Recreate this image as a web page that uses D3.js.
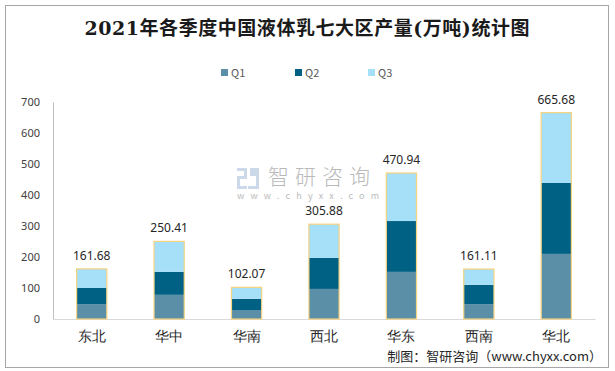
<!DOCTYPE html>
<html>
<head>
<meta charset="utf-8">
<script src="https://cdn.jsdelivr.net/npm/d3@7"></script>
<style>
  body { margin: 0; background: #fff; }
  svg { display: block; font-family: "Noto Sans CJK SC", "Noto Sans", sans-serif; }
</style>
</head>
<body>
<svg id="chart" width="615" height="371"></svg>
<script>
const regions = ["东北", "华中", "华南", "西北", "华东", "西南", "华北"];
const seriesNames = ["Q1", "Q2", "Q3"];
const q1 = [48, 78, 29, 97, 152, 48, 210];
const q2 = [52, 74, 36, 100, 164, 62, 229];
const q3 = [61.68, 98.41, 37.07, 108.88, 154.94, 51.11, 226.68];
const totals = ["161.68", "250.41", "102.07", "305.88", "470.94", "161.11", "665.68"];
const yTicks = [0, 100, 200, 300, 400, 500, 600, 700];
const colors = ["#5b8fa8", "#006185", "#a6dff8"];

const svg = d3.select("#chart");
const margin = { top: 102, left: 53 };
const innerW = 595 - margin.left;
const innerH = 319 - margin.top;

// outer frame
svg.append("rect")
  .attr("x", 5.5).attr("y", 5.5)
  .attr("width", 603).attr("height", 362)
  .attr("fill", "none").attr("stroke", "#a6a6a6").attr("stroke-width", 1);

svg.append("text")
  .attr("x", 307).attr("y", 35)
  .attr("text-anchor", "middle")
  .attr("font-family", "'DejaVu Serif', 'Noto Sans CJK SC', serif")
  .attr("font-size", 19).attr("font-weight", "bold")
  .attr("fill", "#1a1a1a")
  .attr("textLength", 445).attr("lengthAdjust", "spacing")
  .text("2021年各季度中国液体乳七大区产量(万吨)统计图");

// legend
const legendX = [221, 295, 368];
const legend = svg.append("g");
seriesNames.forEach((name, i) => {
  legend.append("rect")
    .attr("x", legendX[i]).attr("y", 69)
    .attr("width", 7).attr("height", 7)
    .attr("fill", colors[i]);
  legend.append("text")
    .attr("x", legendX[i] + 10).attr("y", 77)
    .attr("font-size", 11).attr("fill", "#595959")
    .text(name);
});

// watermark
const wm = svg.append("g").attr("opacity", 0.6);
wm.append("path")
  .attr("d", "M237,168h10v11h-7v7h7v3h-10v-13h7v-5h-7z")
  .attr("fill", "#a9c0dc");
wm.append("path")
  .attr("d", "M250,168h9v21h-11v-3h8v-10h-6z")
  .attr("fill", "#a9c0dc");
wm.append("text").attr("x", 268).attr("y", 184)
  .attr("font-size", 21).attr("font-weight", 300).attr("fill", "#8c8c8c").attr("letter-spacing", 6)
  .text("智研咨询");
wm.append("text").attr("x", 237).attr("y", 199)
  .attr("font-size", 9).attr("fill", "#8c8c8c").attr("letter-spacing", 6.2)
  .text("www.chyxx.com");

const g = svg.append("g").attr("transform", `translate(${margin.left},${margin.top})`);

const x = d3.scaleBand().domain(regions).range([0, innerW]).paddingInner(0.61).paddingOuter(0.305);
const y = d3.scaleLinear().domain([0, 700]).range([innerH, 0]);

const data = regions.map((r, i) => ({ region: r, Q1: q1[i], Q2: q2[i], Q3: q3[i], total: totals[i] }));
const stack = d3.stack().keys(seriesNames)(data);

// y axis
const yAxis = g.append("g").call(d3.axisLeft(y).tickValues(yTicks).tickSize(0).tickPadding(13));
yAxis.select(".domain").attr("stroke", "#bfbfbf");
yAxis.selectAll("text").attr("font-size", 11).attr("fill", "#404040")
  .attr("font-family", "'Noto Sans', sans-serif");

// x axis
const xAxis = g.append("g").attr("transform", `translate(0,${innerH})`)
  .call(d3.axisBottom(x).tickSize(0).tickPadding(12));
xAxis.select(".domain").attr("stroke", "#d9d9d9");
xAxis.selectAll("text").attr("font-size", 14).attr("fill", "#262626").attr("font-weight", 500);

// bars
stack.forEach((layer, li) => {
  g.append("g").selectAll("rect").data(layer).join("rect")
    .attr("x", d => x(d.data.region))
    .attr("y", d => y(d[1]))
    .attr("width", x.bandwidth())
    .attr("height", d => y(d[0]) - y(d[1]))
    .attr("fill", colors[li]);
});

// bar outline
g.append("g").selectAll("rect").data(stack[2]).join("rect")
  .attr("x", d => x(d.data.region))
  .attr("y", d => y(d[1]))
  .attr("width", x.bandwidth())
  .attr("height", d => y(0) - y(d[1]))
  .attr("fill", "none")
  .attr("stroke", "#f6d37e").attr("stroke-width", 1.2);

// totals
g.append("g").selectAll("text").data(stack[2]).join("text")
  .attr("x", d => x(d.data.region) + x.bandwidth() / 2)
  .attr("y", d => y(d[1]) - 9)
  .attr("text-anchor", "middle")
  .attr("font-size", 12).attr("fill", "#262626")
  .attr("font-family", "'Noto Sans', sans-serif")
  .text(d => d.data.total);

// source
svg.append("text")
  .attr("x", 602).attr("y", 361)
  .attr("text-anchor", "end")
  .attr("font-size", 13).attr("fill", "#262626")
  .attr("font-family", "'Noto Sans CJK SC', 'DejaVu Sans Mono', monospace")
  .text("制图：智研咨询（www.chyxx.com）");
</script>
</body>
</html>
